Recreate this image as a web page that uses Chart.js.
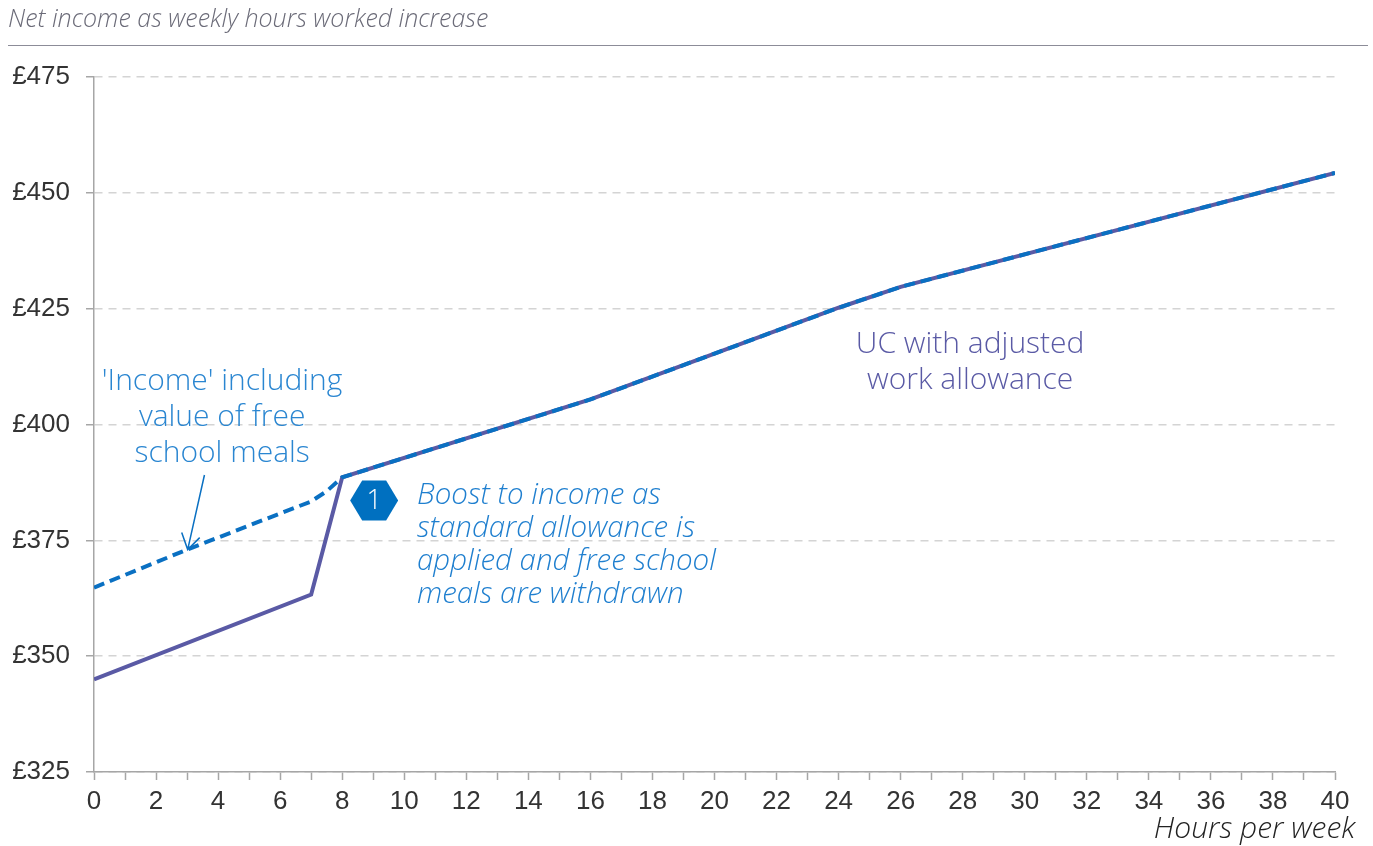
<!DOCTYPE html>
<html>
<head>
<meta charset="utf-8">
<script src="https://cdn.jsdelivr.net/npm/chart.js@4.4.1/dist/chart.umd.min.js"></script>
<style>
  html, body { margin: 0; padding: 0; background: #fff; }
  #wrap { width: 1373px; height: 846px; position: relative; }
</style>
</head>
<body>
<div id="wrap"><canvas id="graphique-revenu"></canvas></div>
<script>
// valeurs
const ucHours = [0, 7, 8, 16, 20, 24, 26, 40];
const ucIncome = [345, 363.3, 388.6, 405.4, 415.3, 425.2, 429.7, 454.3];
const fsmHours = [0, 3, 7, 7.5, 8, 16, 20, 24, 26, 40];
const fsmIncome = [364.8, 373, 383.4, 385.6, 388.6, 405.4, 415.3, 425.2, 429.7, 454.3];
const yTicks = [325, 350, 375, 400, 425, 450, 475];
const xMin = 0, xMax = 40;

const BLUE = "#0a70c2";
const PURPLE = "#5a5aa5";
const AXIS = "#a6a6a6";
const FONT = "'Open Sans'";

const toPoints = (xs, ys) => xs.map((x, i) => ({ x: x, y: ys[i] }));

const annotations = {
  id: "annotations",
  afterDatasetsDraw(chart) {
    const ctx = chart.ctx;
    const sx = chart.scales.x, sy = chart.scales.y;
    ctx.save();

    // texte "Income"
    ctx.fillStyle = "#2a86d1";
    ctx.font = "300 30px " + FONT;
    ctx.textAlign = "center";
    ctx.textBaseline = "middle";
    const inc = ["'Income' including", "value of free", "school meals"];
    let px = sx.getPixelForValue(4.13), py = sy.getPixelForValue(409.2);
    inc.forEach((t, i) => ctx.fillText(t, px, py + i * 36));

    // flèche
    ctx.strokeStyle = BLUE;
    ctx.lineWidth = 1.5;
    const ax = sx.getPixelForValue(3.56), ay = sy.getPixelForValue(389.1);
    const tx = sx.getPixelForValue(3.02), ty = sy.getPixelForValue(373);
    ctx.beginPath();
    ctx.moveTo(ax, ay);
    ctx.lineTo(tx, ty);
    ctx.moveTo(tx - 6, ty - 17);
    ctx.lineTo(tx, ty);
    ctx.lineTo(tx + 12, ty - 12);
    ctx.stroke();

    // UC
    ctx.fillStyle = PURPLE;
    px = sx.getPixelForValue(28.24); py = sy.getPixelForValue(417.3);
    ["UC with adjusted", "work allowance"].forEach((t, i) => ctx.fillText(t, px, py + i * 36));

    // hexagone 1
    const hx = sx.getPixelForValue(9.03), hy = sy.getPixelForValue(383.6);
    ctx.fillStyle = "#0070c0";
    ctx.beginPath();
    ctx.moveTo(hx - 24, hy);
    ctx.lineTo(hx - 12, hy - 20);
    ctx.lineTo(hx + 12, hy - 20);
    ctx.lineTo(hx + 24, hy);
    ctx.lineTo(hx + 12, hy + 20);
    ctx.lineTo(hx - 12, hy + 20);
    ctx.closePath();
    ctx.fill();
    ctx.fillStyle = "#fff";
    ctx.font = "300 27px " + FONT;
    ctx.fillText("1", hx, hy + 1);

    // texte explicatif
    ctx.fillStyle = "#1f7fcf";
    ctx.font = "italic 300 29.5px " + FONT;
    ctx.textAlign = "left";
    px = sx.getPixelForValue(10.41); py = sy.getPixelForValue(384.6);
    ["Boost to income as", "standard allowance is", "applied and free school", "meals are withdrawn"]
      .forEach((t, i) => ctx.fillText(t, px, py + i * 33));
    ctx.restore();
  },
  afterDraw(chart) {
    const ctx = chart.ctx;
    ctx.save();
    ctx.fillStyle = "#6b6b78";
    ctx.font = "italic 300 25px " + FONT;
    ctx.textAlign = "left";
    ctx.textBaseline = "middle";
    ctx.fillText("Net income as weekly hours worked increase", 8, 20);
    ctx.strokeStyle = "#8c8c98";
    ctx.lineWidth = 1;
    ctx.beginPath();
    ctx.moveTo(8, 45.5);
    ctx.lineTo(1368, 45.5);
    ctx.stroke();

    ctx.fillStyle = "#222";
    ctx.font = "italic 300 30px " + FONT;
    ctx.textAlign = "right";
    ctx.fillText("Hours per week", 1355, 829);
    ctx.restore();
  }
};

const data = {
  datasets: [
    {
      label: "'Income' including value of free school meals",
      data: toPoints(fsmHours, fsmIncome),
      borderColor: BLUE,
      borderWidth: 4,
      borderDash: [11, 6],
      pointRadius: 0,
      tension: 0,
    },
    {
      label: "UC with adjusted work allowance",
      data: toPoints(ucHours, ucIncome),
      borderColor: PURPLE,
      borderWidth: 4,
      pointRadius: 0,
      tension: 0,
    },
  ],
};

const config = {
  type: "line",
  data: data,
  options: {
    responsive: true,
    maintainAspectRatio: false,
    animation: false,
    layout: { padding: { left: 0, top: 77, right: 38, bottom: 0 } },
    plugins: { legend: { display: false }, tooltip: { enabled: false } },
    scales: {
      x: {
        type: "linear",
        min: xMin,
        max: xMax,
        afterFit: (s) => { s.height = 74; },
        border: { color: AXIS, width: 1.5 },
        grid: { drawOnChartArea: false, drawTicks: true, tickLength: 8, tickColor: AXIS, tickWidth: 1.5 },
        ticks: {
          stepSize: 1,
          autoSkip: false,
          maxRotation: 0,
          padding: 6,
          color: "#333",
          font: { family: "Liberation Sans", size: 26 },
          callback: (v) => (v % 2 === 0 ? String(v) : ""),
        },
      },
      y: {
        min: yTicks[0],
        max: yTicks[yTicks.length - 1],
        afterFit: (s) => { s.width = 94; },
        afterBuildTicks: (s) => { s.ticks = yTicks.map((v) => ({ value: v })); },
        border: { color: AXIS, width: 1.5, dash: [8, 6] },
        grid: {
          color: "#d4d4d4",
          lineWidth: 1.5,
          drawTicks: true,
          tickLength: 8,
          tickColor: AXIS,
          tickBorderDash: [],
        },
        ticks: {
          padding: 16,
          color: "#333",
          font: { family: "Liberation Sans", size: 26 },
          callback: (v) => "£" + v,
        },
      },
    },
  },
  plugins: [annotations],
};

const graphiqueRevenu = new Chart(document.querySelector("#graphique-revenu"), config);
</script>
</body>
</html>
